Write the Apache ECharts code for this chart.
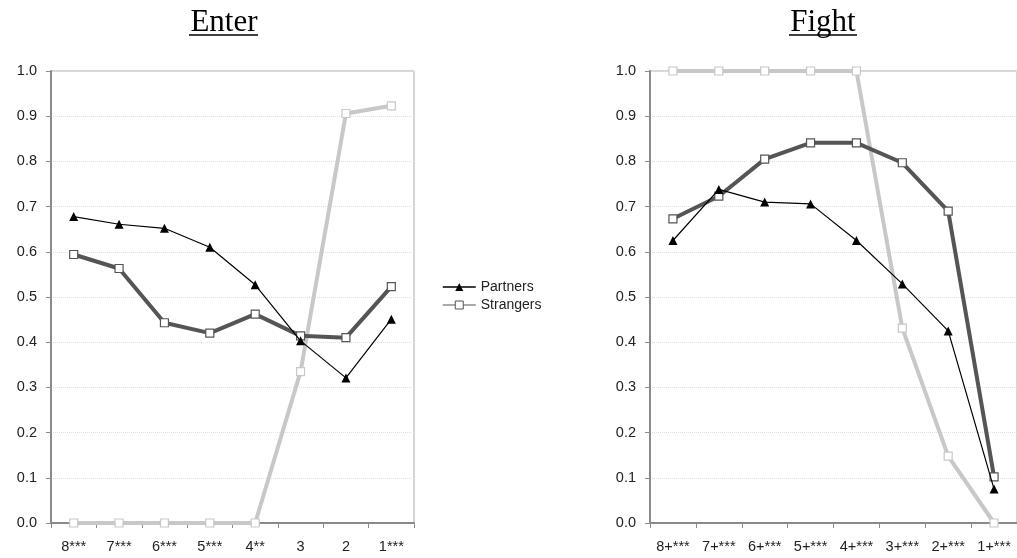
<!DOCTYPE html>
<html><head><meta charset="utf-8">
<script src="https://cdn.jsdelivr.net/npm/echarts@6/dist/echarts.min.js"></script>
<style>html,body{margin:0;padding:0;background:#fff}#c{width:1017px;height:558px}</style>
</head><body><div id="c"></div>
<script>
const enterCats = ['8***','7***','6***','5***','4**','3','2','1***'];
const fightCats = ['8+***','7+***','6+***','5+***','4+***','3+***','2+***','1+***'];
const yTicks = [0,0.1,0.2,0.3,0.4,0.5,0.6,0.7,0.8,0.9,1.0];

const enterPartners  = [0.678,0.661,0.652,0.610,0.527,0.403,0.321,0.451];
const enterStrangers = [0.594,0.563,0.443,0.420,0.462,0.414,0.410,0.523];
const enterOther     = [0,0,0,0,0,0.335,0.906,0.923];

const fightPartners  = [0.625,0.738,0.710,0.706,0.625,0.529,0.425,0.075];
const fightStrangers = [0.673,0.723,0.805,0.841,0.841,0.797,0.690,0.102];
const fightOther     = [1,1,1,1,1,0.431,0.148,0];

const font = '"Liberation Sans", Arial, sans-serif';
const serif = '"Liberation Serif", "Times New Roman", serif';
const chart = echarts.init(document.getElementById('c'));

function xAxis(idx, cats){
  return {type:'category', gridIndex:idx, data:cats, boundaryGap:true,
    axisLine:{lineStyle:{color:'#8a8a8a', width:2}},
    axisTick:{show:true, length:5, inside:false, lineStyle:{color:'#8a8a8a', width:1}},
    axisLabel:{color:'#222', fontSize:14.5, fontFamily:font, margin:16}};
}
function yAxis(idx){
  return {type:'value', gridIndex:idx, min:0, max:1, interval:0.1,
    axisLine:{show:true, lineStyle:{color:'#8a8a8a', width:2}},
    axisTick:{show:true, length:5, lineStyle:{color:'#8a8a8a'}},
    axisLabel:{color:'#222', fontSize:14.5, fontFamily:font, margin:14,
      formatter:v=>v.toFixed(1)},
    splitLine:{show:true, lineStyle:{color:'#e0e0e0', type:'dotted', width:1}}};
}
function partners(idx, d){
  return {name:'Partners', type:'line', xAxisIndex:idx, yAxisIndex:idx, data:d, z:5,
    symbol:'triangle', symbolSize:9, itemStyle:{color:'#000'},
    lineStyle:{color:'#000', width:1.2}};
}
function strangers(idx, d){
  return {name:'Strangers', type:'line', xAxisIndex:idx, yAxisIndex:idx, data:d, z:4,
    symbol:'rect', symbolSize:8, showAllSymbol:true,
    itemStyle:{color:'#fff', borderColor:'#555', borderWidth:1.2},
    lineStyle:{color:'#555', width:4}};
}
function other(idx, d){
  return {name:'Other', type:'line', xAxisIndex:idx, yAxisIndex:idx, data:d, z:3,
    symbol:'rect', symbolSize:8, showAllSymbol:true,
    itemStyle:{color:'#fff', borderColor:'#c8c8c8', borderWidth:1.2},
    lineStyle:{color:'#c8c8c8', width:4}};
}

chart.setOption({
  animation:false,
  backgroundColor:'#fff',
  graphic:[
    {type:'text', style:{text:'Enter', x:224, y:23, align:'center', verticalAlign:'middle',
      font:'31px ' + serif, fill:'#000'}},
    {type:'text', style:{text:'Fight', x:823, y:23, align:'center', verticalAlign:'middle',
      font:'31px ' + serif, fill:'#000'}},
    {type:'line', shape:{x1:189, y1:35, x2:258, y2:35}, style:{stroke:'#000', lineWidth:1.5}},
    {type:'line', shape:{x1:789, y1:35, x2:857, y2:35}, style:{stroke:'#000', lineWidth:1.5}}
  ],
  legend:{
    orient:'vertical', left:437, top:275, itemWidth:33, itemHeight:10, itemGap:4,
    textStyle:{fontFamily:font, fontSize:14, color:'#222'},
    data:[
      {name:'Partners', itemStyle:{color:'#000'}, lineStyle:{color:'#000', width:1.5}},
      {name:'Strangers', itemStyle:{color:'#fff', borderColor:'#555', borderWidth:1}, lineStyle:{color:'#555', width:1.2}}
    ]
  },
  grid:[
    {left:51, top:71, width:363, height:452, show:true, borderColor:'#aaa', borderWidth:1, backgroundColor:'transparent'},
    {left:650, top:71, width:368, height:452, show:true, borderColor:'#aaa', borderWidth:1, backgroundColor:'transparent'}
  ],
  xAxis:[xAxis(0, enterCats), xAxis(1, fightCats)],
  yAxis:[yAxis(0), yAxis(1)],
  series:[
    other(0, enterOther), strangers(0, enterStrangers), partners(0, enterPartners),
    other(1, fightOther), strangers(1, fightStrangers), partners(1, fightPartners)
  ]
});
</script></body></html>
